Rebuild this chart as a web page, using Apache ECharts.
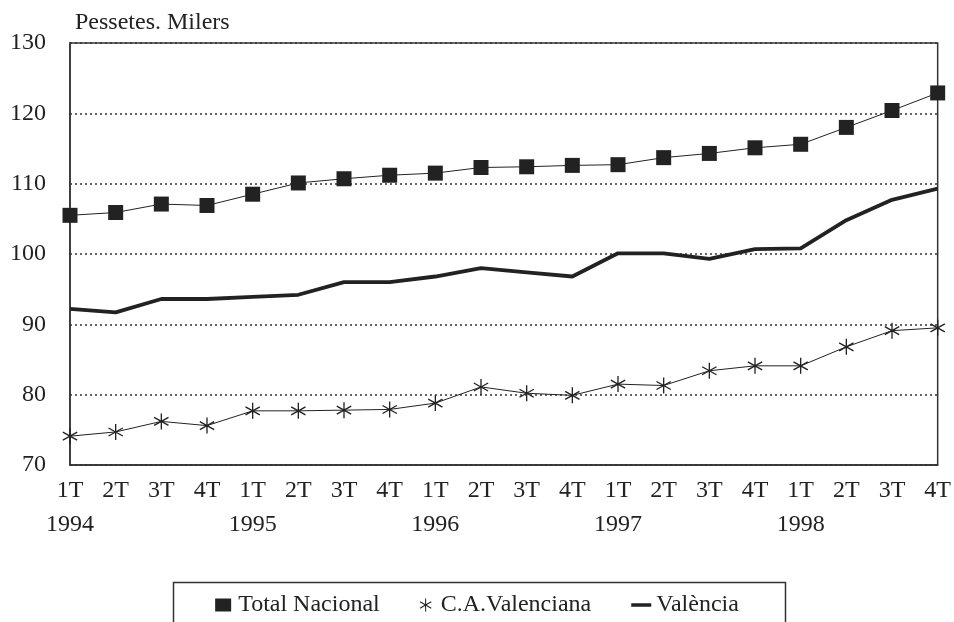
<!DOCTYPE html>
<html>
<head>
<meta charset="utf-8">
<script src="https://cdn.jsdelivr.net/npm/echarts@6/dist/echarts.min.js"></script>
<style>
html, body { margin: 0; padding: 0; background: #fff; }
#main { width: 954px; height: 622px; }
</style>
</head>
<body>
<div id="main"></div>
<script>
var quarters = ['1T', '2T', '3T', '4T', '1T', '2T', '3T', '4T', '1T', '2T', '3T', '4T', '1T', '2T', '3T', '4T', '1T', '2T', '3T', '4T'];
var years = ['1994', '1995', '1996', '1997', '1998'];
var totalNacional = [105.5, 105.9, 107.1, 106.9, 108.5, 110.1, 110.7, 111.2, 111.5, 112.3, 112.4, 112.6, 112.7, 113.7, 114.3, 115.1, 115.6, 118.0, 120.4, 122.9];
var caValenciana = [74.1, 74.7, 76.2, 75.6, 77.7, 77.7, 77.8, 77.9, 78.8, 81.1, 80.2, 79.9, 81.5, 81.3, 83.4, 84.1, 84.1, 86.8, 89.1, 89.5];
var valencia = [92.2, 91.7, 93.6, 93.6, 93.9, 94.2, 96.0, 96.0, 96.8, 98.0, 97.4, 96.8, 100.1, 100.1, 99.3, 100.7, 100.8, 104.8, 107.7, 109.3];
var yTicks = [70, 80, 90, 100, 110, 120, 130];

// asterisc de sis branques
var asterisk = 'path://M-0.08,-1L0.08,-1L0.08,1L-0.08,1Z' +
	'M-0.906,-0.431L-0.826,-0.569L0.906,0.431L0.826,0.569Z' +
	'M-0.826,0.569L-0.906,0.431L0.826,-0.569L0.906,-0.431Z';
var square = 'path://M0,0L10,0L10,10L0,10Z';
var legendSquare = 'path://M0,0L16,0L16,13L0,13Z';
var dash = 'path://M0,0L20,0L20,3.5L0,3.5Z';
var ink = '#222';
var serif = 'Liberation Serif';

var chart = echarts.init(document.getElementById('main'));
var option = {
	animation: false,
	textStyle: { fontFamily: serif, color: ink },
	title: {
		text: 'Pessetes. Milers',
		left: 70,
		top: 6,
		textStyle: { fontFamily: serif, fontSize: 24, fontWeight: 'normal', color: ink }
	},
	grid: {
		left: 70,
		right: 13,
		top: 43,
		bottom: 157,
		show: true,
		borderColor: '#333',
		borderWidth: 1.5
	},
	graphic: [{
		type: 'rect',
		left: 171,
		top: 580,
		shape: { width: 612, height: 60 },
		style: { fill: 'none', stroke: '#333', lineWidth: 1.5 }
	}],
	legend: {
		left: 'center',
		top: 588,
		itemGap: 40,
		itemWidth: 20,
		itemHeight: 13,
		symbolKeepAspect: true,
		textStyle: { fontFamily: serif, fontSize: 24, color: ink },
		data: [
			{ name: 'Total Nacional', icon: legendSquare },
			{ name: 'C.A.Valenciana', icon: asterisk },
			{ name: 'València', icon: dash }
		]
	},
	xAxis: {
		type: 'category',
		boundaryGap: false,
		data: quarters,
		axisLine: { show: true, lineStyle: { color: '#333', width: 1.5 } },
		axisTick: { show: false },
		splitLine: { show: false },
		axisLabel: {
			interval: 0,
			margin: 9,
			fontSize: 24,
			lineHeight: 34,
			fontFamily: serif,
			color: ink,
			formatter: function (value, index) {
				return value + '\n' + (index % 4 === 0 ? years[index / 4] : ' ');
			}
		}
	},
	yAxis: {
		type: 'value',
		min: yTicks[0],
		max: yTicks[yTicks.length - 1],
		interval: 10,
		axisLine: { show: true, lineStyle: { color: '#333', width: 1.5 } },
		axisTick: { show: false },
		axisLabel: { fontSize: 24, fontFamily: serif, color: ink, margin: 24 },
		splitLine: { show: true, lineStyle: { color: '#333', width: 1.5, type: [2, 3] } }
	},
	series: [{
		name: 'Total Nacional',
		type: 'line',
		data: totalNacional,
		symbol: square,
		symbolSize: 15,
		lineStyle: { color: ink, width: 1 },
		itemStyle: { color: ink }
	}, {
		name: 'C.A.Valenciana',
		type: 'line',
		data: caValenciana,
		symbol: asterisk,
		symbolSize: [15, 16],
		lineStyle: { color: ink, width: 1 },
		itemStyle: { color: ink }
	}, {
		name: 'València',
		type: 'line',
		data: valencia,
		symbol: 'none',
		lineStyle: { color: ink, width: 3.8 },
		itemStyle: { color: ink }
	}]
};
chart.setOption(option);
</script>
</body>
</html>
